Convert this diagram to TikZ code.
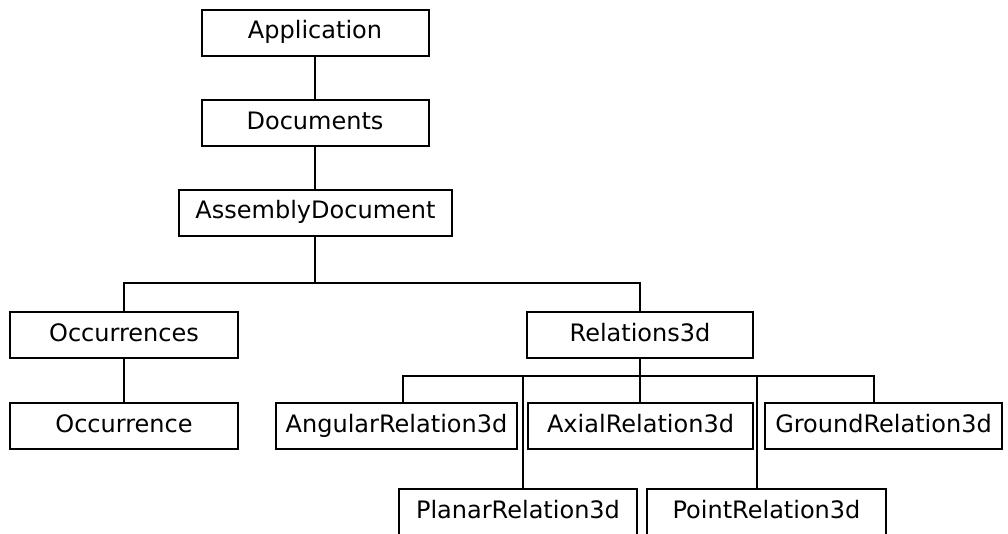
\documentclass[tikz,border=0pt]{standalone}
\usepackage{fontspec}
\setmainfont{DejaVu Sans}
\usetikzlibrary{positioning}

\begin{document}
\begin{tikzpicture}[
  x=1pt,y=-1pt,
  box/.style={draw,line width=2pt,minimum width=#1,minimum height=46,inner sep=0pt,text height=17.5,text depth=5.5,font=\fontsize{24}{28}\selectfont},
  link/.style={line width=2pt},
]
  \clip (0,0) rectangle (1008,533);
  \fill[white] (0,0) rectangle (1008,533);

  % upper chain
  \node[box=227] (app) at (315,32.5) {Application};
  \node[box=227] (docs) at (315,123) {Documents};
  \node[box=273] (asm) at (315.5,212.5) {AssemblyDocument};

  % collections
  \node[box=228] (occs) at (124,335) {Occurrences};
  \node[box=226] (rels) at (640,335) {Relations3d};
  \node[box=228] (occ) at (124,426) {Occurrence};

  % relation kinds
  \node[box=241] (angular) at (396.5,426) {AngularRelation3d};
  \node[box=225] (axial) at (640.5,426) {AxialRelation3d};
  \node[box=237] (ground) at (883.5,426) {GroundRelation3d};
  \node[box=238] (planar) at (518,512) {PlanarRelation3d};
  \node[box=239] (point) at (766.5,512) {PointRelation3d};

  \coordinate (busA) at (315,283);
  \coordinate (busR) at (640,376);

  \draw[link] (app) -- (docs);
  \draw[link] (docs.south) -- (docs.south |- asm.north);
  \draw[link] (busA |- asm.south) -- (busA);
  \draw[link] (occs.north) |- (busA) -| (rels.north);
  \draw[link] (occs) -- (occ);
  \draw[link] (rels.south) -- (busR);
  \draw[link] ([xshift=6.5]angular.north) |- (busR) -| ([xshift=-9.5]ground.north);
  \draw[link] (busR |- axial.north) -- (busR);
  \draw[link] ([xshift=5]planar.north) -- ([xshift=5]planar.north |- busR);
  \draw[link] ([xshift=-9.5]point.north) -- ([xshift=-9.5]point.north |- busR);
\end{tikzpicture}
\end{document}
